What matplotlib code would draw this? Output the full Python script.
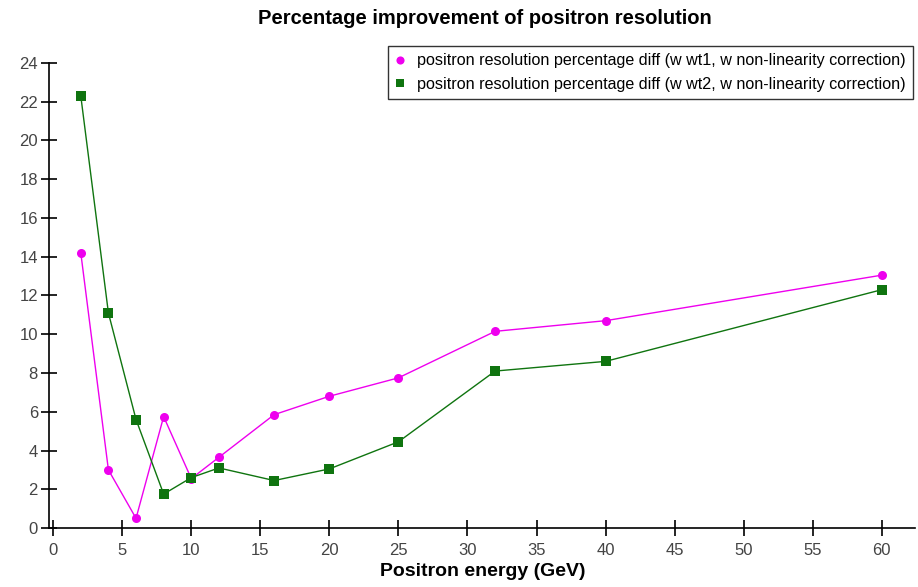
import matplotlib
matplotlib.use('Agg')
import matplotlib.pyplot as plt

plt.rcParams['font.family'] = ['Liberation Sans', 'DejaVu Sans']

energy = [2, 4, 6, 8, 10, 12, 16, 20, 25, 32, 40, 60]
diff_wt1 = [14.2, 3.0, 0.5, 5.75, 2.55, 3.65, 5.85, 6.8, 7.75, 10.15, 10.7, 13.05]
diff_wt2 = [22.3, 11.1, 5.6, 1.75, 2.6, 3.1, 2.45, 3.05, 4.45, 8.1, 8.6, 12.3]
labels = ['positron resolution percentage diff (w wt1, w non-linearity correction)',
          'positron resolution percentage diff (w wt2, w non-linearity correction)']

fig = plt.figure(figsize=(9.18, 5.87), dpi=100)
ax = fig.add_axes([0.0534, 0.1005, 0.9433, 0.7922])

ax.plot(energy, diff_wt1, color='#ee00ee', linewidth=1, marker='o', markersize=6.5,
        markeredgewidth=0, label=labels[0])
ax.plot(energy, diff_wt2, color='#0f740f', linewidth=1, marker='s', markersize=6.5,
        markeredgewidth=0, label=labels[1])

ax.set_xlim(-0.3, 62.4)
ax.set_ylim(0, 24)
ax.set_xticks(range(0, 61, 5))
ax.set_yticks(range(0, 25, 2))
for s in ['top', 'right']:
    ax.spines[s].set_visible(False)
for s in ['left', 'bottom']:
    ax.spines[s].set_linewidth(1.2)
ax.tick_params(direction='inout', length=12, width=1.2, labelsize=12, labelcolor='#444444')
ax.tick_params(axis='x', pad=5)
ax.tick_params(axis='y', pad=2)

fig.text(0.528, 1 - 19 / 587., 'Percentage improvement of positron resolution',
         fontsize=14.5, fontweight='bold', ha='center', va='center')
ax.set_xlabel('Positron energy (GeV)', fontsize=14, fontweight='bold')
ax.xaxis.set_label_coords(0.5006, -0.0946)
ax.xaxis.label.set_va('center')

leg = ax.legend(loc='upper right', bbox_to_anchor=(1.0, 1.04), fontsize=11.6, fancybox=False,
                edgecolor='black', handlelength=0.6, handletextpad=0.8, borderpad=0.45,
                labelspacing=0.55, markerscale=0.9, borderaxespad=0.1)
leg.get_frame().set_linewidth(1)
for h in leg.get_lines():
    h.set_linestyle('')

fig.savefig('out.png', dpi=100)
